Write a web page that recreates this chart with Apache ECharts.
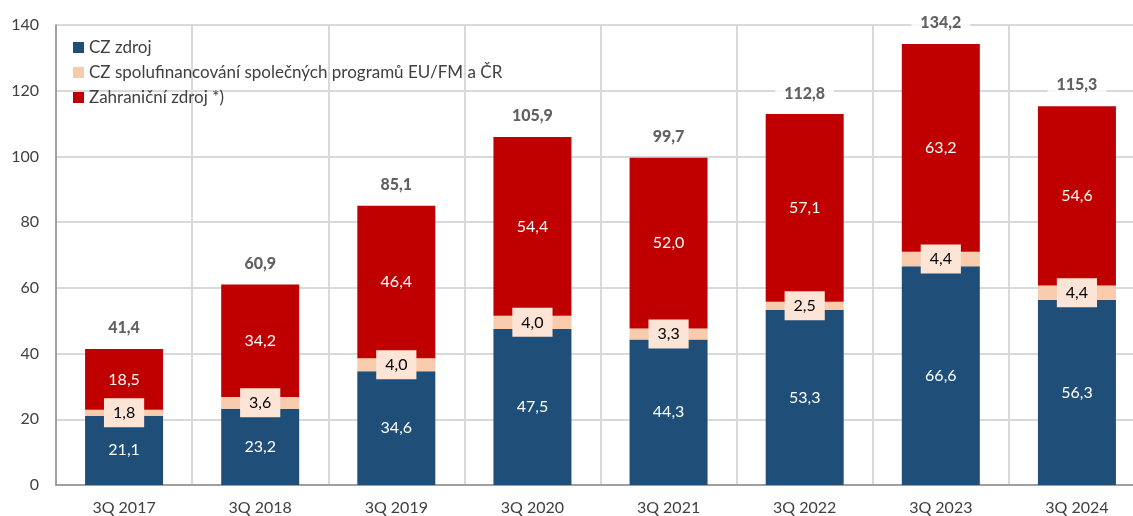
<!DOCTYPE html>
<html>
<head>
<meta charset="utf-8">
<script src="https://cdn.jsdelivr.net/npm/echarts@6/dist/echarts.min.js"></script>
<style>
  html, body { margin: 0; padding: 0; background: #fff; }
  #main { width: 1133px; height: 516px; }
</style>
</head>
<body>
<div id="main"></div>
<script>
  // data
  var kategorie = ['3Q 2017', '3Q 2018', '3Q 2019', '3Q 2020', '3Q 2021', '3Q 2022', '3Q 2023', '3Q 2024'];
  var czZdroj = [21.1, 23.2, 34.6, 47.5, 44.3, 53.3, 66.6, 56.3];
  var spolufin = [1.8, 3.6, 4.0, 4.0, 3.3, 2.5, 4.4, 4.4];
  var zahranicni = [18.5, 34.2, 46.4, 54.4, 52.0, 57.1, 63.2, 54.6];
  var celkem = [41.4, 60.9, 85.1, 105.9, 99.7, 112.8, 134.2, 115.3];
  var nazvy = ['CZ zdroj', 'CZ spolufinancování společných programů EU/FM a ČR', 'Zahraniční zdroj *)'];

  var font = 'Lato, "Open Sans", sans-serif';

  function cislo(p) {
    return p.value.toFixed(1).replace('.', ',');
  }

  var myChart = echarts.init(document.getElementById('main'));

  var option = {
    animation: false,
    textStyle: { fontFamily: font },
    grid: { left: 56, width: 1089, top: 25, bottom: 31, outerBoundsMode: 'none', containLabel: false },
    legend: {
      data: nazvy,
      orient: 'vertical',
      left: 68,
      top: 34,
      itemWidth: 11,
      itemHeight: 11,
      itemGap: 8,
      icon: 'rect',
      textStyle: { fontSize: 17, color: '#404040', fontFamily: font }
    },
    xAxis: {
      type: 'category',
      data: kategorie,
      axisLine: { lineStyle: { color: '#8c8c8c', width: 1.5 } },
      axisTick: { show: false },
      axisLabel: { fontSize: 16, color: '#404040', margin: 15 },
      splitLine: { show: true, lineStyle: { color: '#d9d9d9', width: 2 } }
    },
    yAxis: {
      type: 'value',
      min: 0,
      max: 140,
      interval: 20,
      axisLine: { show: true, lineStyle: { color: '#8c8c8c', width: 1.5 } },
      axisTick: { show: false },
      axisLabel: { fontSize: 16, color: '#404040', margin: 17 },
      splitLine: { lineStyle: { color: '#d9d9d9', width: 2 } }
    },
    series: [
      {
        name: nazvy[0],
        type: 'bar',
        stack: 'a',
        barWidth: 78,
        data: czZdroj,
        itemStyle: { color: '#1f4e79' },
        label: { show: true, position: 'inside', color: '#fff', fontSize: 16, formatter: cislo }
      },
      {
        name: nazvy[1],
        type: 'bar',
        stack: 'a',
        data: spolufin,
        itemStyle: { color: '#f8cbad' },
        label: {
          show: true, position: 'inside', color: '#000', fontSize: 16, formatter: cislo,
          backgroundColor: '#fce4d6', padding: [7, 9, 6, 9]
        }
      },
      {
        name: nazvy[2],
        type: 'bar',
        stack: 'a',
        data: zahranicni,
        itemStyle: { color: '#c00000' },
        label: { show: true, position: 'inside', color: '#fff', fontSize: 16, formatter: cislo }
      },
      {
        name: 'celkem',
        type: 'scatter',
        symbolSize: 0,
        data: celkem,
        z: 5,
        label: {
          show: true, position: 'top', distance: 11, color: '#3a3a3a', fontSize: 16,
          fontWeight: 900, formatter: cislo, backgroundColor: '#fff', padding: [2, 9]
        }
      }
    ]
  };

  myChart.setOption(option);
</script>
</body>
</html>
